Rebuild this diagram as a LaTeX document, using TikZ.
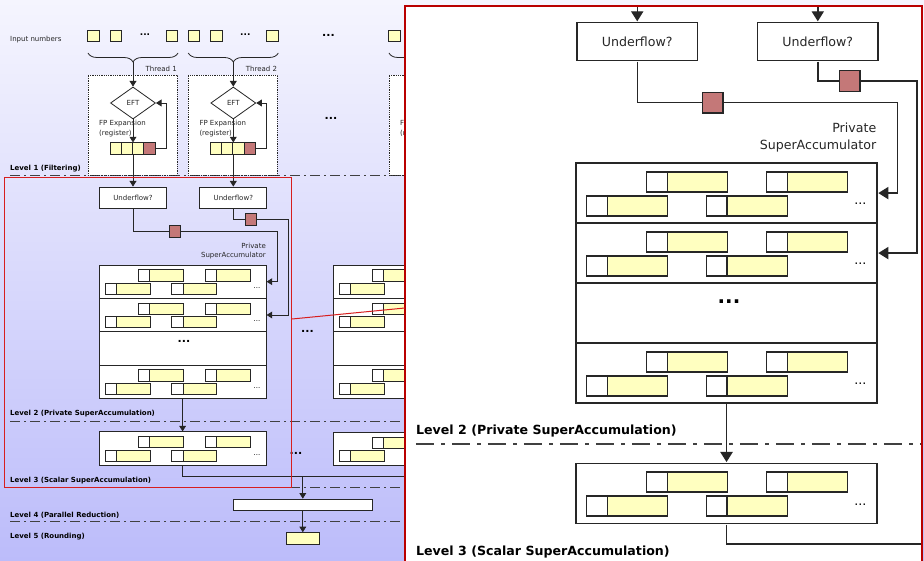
\documentclass[tikz,border=0pt]{standalone}
\usepackage{fontspec}
\setmainfont{DejaVu Sans}
\usetikzlibrary{arrows.meta,shapes.geometric,decorations.pathreplacing}

\definecolor{binyellow}{RGB}{255,255,192}
\definecolor{carry}{RGB}{196,120,120}
\definecolor{zoomred}{RGB}{185,0,0}
\definecolor{srcred}{RGB}{215,30,30}
\definecolor{bgtop}{RGB}{245,245,254}
\definecolor{bgbottom}{RGB}{188,188,250}

\def\lwf{1}
\newif\ifzoomview

% one row of a superaccumulator: node name, left x, top y
\newcommand\accrow[3]{%
  \node[rowbox] (#1) at ({#2+83.6},{#3+16.67}) {};
  \foreach \dx/\dy in {39.3/4.9,105.9/4.9,5.9/18.3,72.5/18.3}{
    \draw[binw] ({#2+\dx},{#3+\dy}) rectangle ++(11.5,11.1);
    \draw[biny] ({#2+\dx+11.5},{#3+\dy}) rectangle ++(33.5,11.1);
  }
  \node[smalldots] (#1dots) at ({#2+158},{#3+22.8}) {...};
}
\newcommand\gaprow[3]{%
  \node[rowbox] (#1) at ({#2+83.6},{#3+16.67}) {};
  \node[bigdots] (#1dots) at ({#2+85},{#3+10.2}) {...};
}

\newcommand\flowchart{%
  \pgfmathsetmacro\dA{10*\lwf}\pgfmathsetmacro\dB{4*\lwf}\pgfmathsetmacro\dC{2*\lwf}%
  \foreach \ly in {175,421,487.7,521.7}{\draw[level] (10,\ly) -- (924,\ly);}
  % threads
  \foreach \cx/\tn in {133/1,233.3/2}{
    \ifzoomview\else
    \node[numbox] (num\tn1) at ({\cx-39.5},36) {};
    \node[numbox] (num\tn2) at ({\cx-17},36) {};
    \node[middots] (num\tn dots) at ({\cx+12},35) {...};
    \node[numbox] (num\tn3) at ({\cx+39},36) {};
    \draw[wire, decorate, decoration={brace, mirror, amplitude=9pt}] ({\cx-45},53) -- ({\cx+45},53);
    \node[txt, anchor=east] (thread\tn) at ({\cx+44},69) {Thread \tn};
    \fi
    \coordinate (tip\tn) at (\cx,62);
    \node[threadbox] (tb\tn) at ({\cx-0.5},125) {};
    \node[eft] (eft\tn) at (\cx,103) {\ifzoomview\else EFT\fi};
    \ifzoomview\else
    \node[txt, align=left, anchor=west] (fp\tn) at ({\cx-34},128.5) {FP Expansion\\(register)};
    \fi
    \foreach \i in {1,2,3}{
      \node[regcell, fill=binyellow] (reg\tn\i) at ({\cx-28.6+11.25*\i},148.5) {};
    }
    \node[regcell, fill=carry] (reg\tn4) at ({\cx+16.4},148.5) {};
    \node[ufbox] (uf\tn) at (\cx,197.5) {Underflow?};
    \draw[arr] (tip\tn) -- (eft\tn.north);
    \draw[arr] (eft\tn.south) -- (eft\tn.south |- reg\tn1.north);
    \draw[arr] (reg\tn4.east) -- ++(11,0) |- (eft\tn.east);
    \draw[arr] (eft\tn.south |- reg\tn1.south) -- (uf\tn.north);
  }
  \ifzoomview\else
  \node[txt, anchor=west] (inputs) at (10,39.5) {Input numbers};
  % last thread, mostly hidden
  \node[numbox] (num41) at (394.5,36) {};
  \draw[wire, decorate, decoration={brace, mirror, amplitude=9pt}] (389,53) -- (479,53);
  \node[threadbox] (tb4) at (433.5,125) {};
  \node[txt, align=left, anchor=west] (fp4) at (400,128.5) {FP Expansion\\(register)};
  \node[bigdots] (gap1) at (328.5,35) {...};
  \node[bigdots] (gap2) at (331,118) {...};
  \node[lvl] (lv1) at (10,169) {Level 1 (Filtering)};
  \fi
  % private superaccumulators
  \node[txt, align=right, anchor=east] (salabel) at (266,251) {Private\\SuperAccumulator};
  \accrow{sa1r1}{99}{265}
  \accrow{sa1r2}{99}{298.33}
  \gaprow{sa1r3}{99}{331.67}
  \accrow{sa1r4}{99}{365}
  \coordinate (bend1) at (277.5,231.5);
  \coordinate (bend2) at (288.5,219.5);
  \draw[arr] (uf1.south) |- (bend1) |- (sa1r1.east);
  \draw[arr] (uf2.south) |- (bend2) |- (sa1r2.east);
  \node[carrybox] (carry1) at (175,231.5) {};
  \node[carrybox] (carry2) at (251,219.5) {};
  % scalar superaccumulators
  \accrow{sc1}{99}{431.8}
  \node[bigdots] (gap4) at (296,453.7) {...};
  \draw[arr] (sa1r4.south) -- (sc1.north);
  \coordinate (bus) at (302.8,476.7);
  \coordinate (busend) at (416.6,476.7);
  \draw[wire] (sc1.south) |- (busend);
  \node[lvl] (lv2) at (10,413.9) {Level 2 (Private SuperAccumulation)};
  \node[lvl] (lv3) at (10,481) {Level 3 (Scalar SuperAccumulation)};
  \ifzoomview\else
  \accrow{sa2r1}{333}{265}
  \accrow{sa2r2}{333}{298.33}
  \gaprow{sa2r3}{333}{331.67}
  \accrow{sa2r4}{333}{365}
  \node[bigdots] (gap3) at (307.5,331.5) {...};
  \accrow{sc2}{333}{432.3}
  \draw[arr] (sa2r4.south) -- (sc2.north);
  \draw[wire] (sc2.south) -- (busend);
  % reduction and rounding
  \node[wire, draw, fill=white, minimum width=139pt, minimum height=11.7pt, inner sep=0pt] (reduce) at (302.8,504.9) {};
  \node[numbox, minimum width=33.3pt, minimum height=11.3pt] (result) at (302.8,538.3) {};
  \draw[arr] (bus) -- (reduce.north);
  \draw[arr] (reduce.south) -- (result.north);
  \node[lvl] (lv4) at (10,515) {Level 4 (Parallel Reduction)};
  \node[lvl] (lv5) at (10,537) {Level 5 (Rounding)};
  \fi
}

\begin{document}
\begin{tikzpicture}[x=1pt,y=-1pt,
    wire/.style={line width=0.8pt*\lwf, draw=black!85},
    arr/.style={wire, -{Triangle[length=0pt 7, width=0pt 8.5]}},
    level/.style={line width=0.8pt*\lwf, draw=black!75, dash pattern=on \dA pt off \dB pt on \dC pt off \dB pt},
    txt/.style={font=\fontsize{7}{9.3}\selectfont, inner sep=0pt, text=black!85},
    lvl/.style={font=\fontsize{7}{8}\selectfont\bfseries, anchor=west, inner sep=0pt},
    bigdots/.style={font=\fontsize{11}{12}\selectfont\bfseries, inner sep=0pt},
    middots/.style={font=\fontsize{9}{10}\selectfont\bfseries, inner sep=0pt},
    smalldots/.style={font=\fontsize{7}{8}\selectfont, inner sep=0pt},
    numbox/.style={wire, draw, fill=binyellow, minimum size=11.5pt, inner sep=0pt},
    regcell/.style={wire, draw, minimum width=11.25pt, minimum height=11.3pt, inner sep=0pt},
    carrybox/.style={wire, draw, fill=carry, minimum size=11.5pt, inner sep=0pt},
    binw/.style={wire, fill=white},
    biny/.style={wire, fill=binyellow},
    rowbox/.style={wire, draw, fill=white, minimum width=167.2pt, minimum height=33.33pt, inner sep=0pt},
    threadbox/.style={wire, draw, densely dotted, fill=white, minimum width=89pt, minimum height=100pt, inner sep=0pt},
    eft/.style={wire, draw, diamond, fill=white, minimum width=45pt, minimum height=32pt, txt},
    ufbox/.style={wire, draw, fill=white, minimum width=67pt, minimum height=21pt, txt},
    srcframe/.style={draw=srcred, line width=1pt, minimum width=287.5pt, minimum height=309.5pt, inner sep=0pt},
    zoompanel/.style={fill=white, minimum width=517pt, minimum height=560pt, inner sep=0pt},
    zoomframe/.style={draw=zoomred, line width=2pt}]
  \useasboundingbox (0,0) rectangle (924,561);
  \shade[top color=bgtop, bottom color=bgbottom] (0,0) rectangle (924,561);
  \flowchart
  \node[srcframe] (src) at (147.75,332.75) {};
  % magnified view of the framed part
  \node[zoompanel] (zoom) at (663.5,286) {};
  \begin{scope}
    \clip (zoom.south west) rectangle (zoom.north east);
    \begin{scope}[shift={(397.8,-314)}, scale=1.8, every node/.append style={transform shape}]
      \def\lwf{1.8}
      \zoomviewtrue
      \flowchart
    \end{scope}
  \end{scope}
  \draw[zoomframe] (zoom.south west) rectangle (zoom.north east);
  \draw[draw=srcred, line width=1pt] ([yshift=13.75pt]src.east) -- ([yshift=-22pt]zoom.west);
\end{tikzpicture}
\end{document}
